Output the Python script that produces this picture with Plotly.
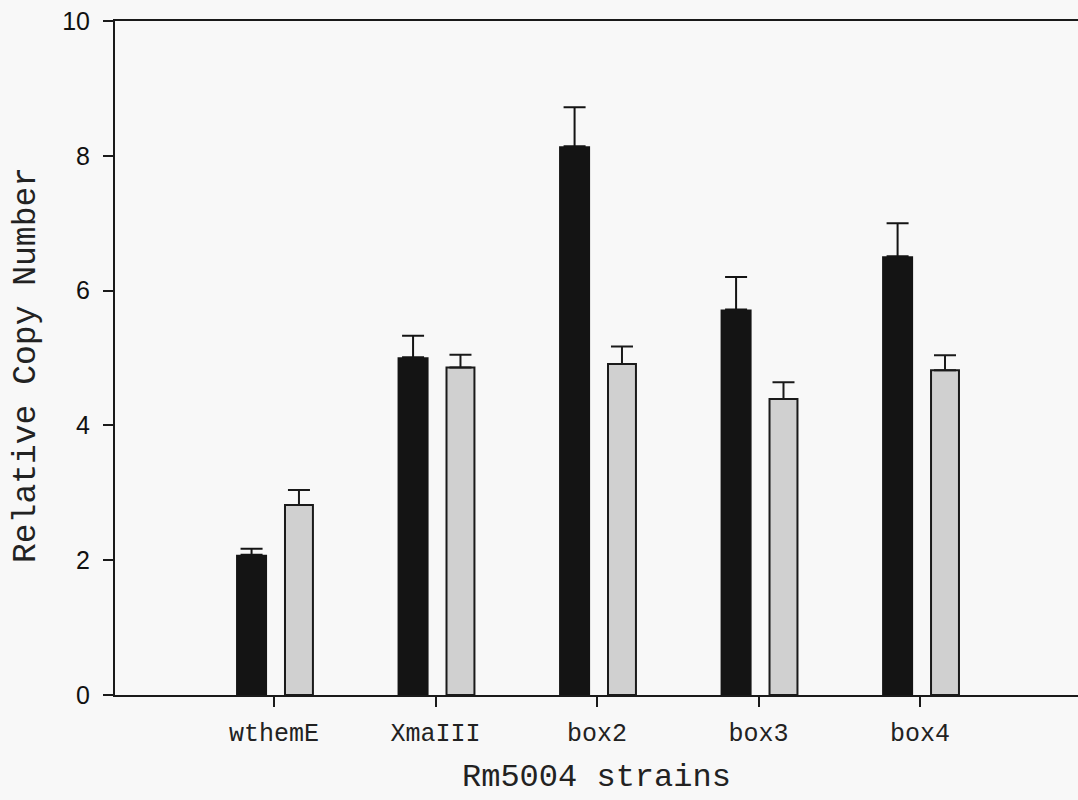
import plotly.graph_objects as go

categories = ["wthemE", "XmaIII", "box2", "box3", "box4"]
black_values = [2.08, 5.01, 8.14, 5.72, 6.51]
black_errors = [0.09, 0.32, 0.58, 0.48, 0.49]
grey_values = [2.82, 4.86, 4.91, 4.39, 4.82]
grey_errors = [0.22, 0.19, 0.26, 0.25, 0.22]
y_ticks = [0, 2, 4, 6, 8, 10]

x_pos = list(range(len(categories)))

fig = go.Figure()
fig.add_trace(go.Bar(
    x=x_pos, y=black_values,
    offset=-0.235, width=0.192,
    marker=dict(color="#141414", line=dict(width=0)),
    error_y=dict(type="data", array=black_errors, arrayminus=[0] * len(black_errors),
                 symmetric=False, thickness=2, width=11, color="#141414"),
    showlegend=False,
))
fig.add_trace(go.Bar(
    x=x_pos, y=grey_values,
    offset=0.068, width=0.173,
    marker=dict(color="#d0d0d0", line=dict(width=2, color="#1a1a1a")),
    error_y=dict(type="data", array=grey_errors, arrayminus=[0] * len(grey_errors),
                 symmetric=False, thickness=2, width=11, color="#1a1a1a"),
    showlegend=False,
))

fig.update_layout(
    width=1078, height=800,
    margin=dict(l=115, r=0, t=21, b=105),
    barmode="overlay",
    paper_bgcolor="#f8f8f8",
    plot_bgcolor="#f8f8f8",
    xaxis=dict(
        range=[-0.9845, 4.978],
        tickmode="array", tickvals=x_pos, ticktext=categories,
        ticks="outside", ticklen=10, tickwidth=2, tickcolor="#1a1a1a",
        showline=True, linewidth=2, linecolor="#1a1a1a", mirror=True,
        showgrid=False, zeroline=False, ticklabelstandoff=4,
        tickfont=dict(family="Liberation Mono, Courier New, monospace", size=25, color="#222"),
    ),
    yaxis=dict(
        range=[0, 10],
        tickmode="array", tickvals=y_ticks, ticktext=[str(v) for v in y_ticks],
        ticks="outside", ticklen=10, tickwidth=2, tickcolor="#1a1a1a",
        showline=True, linewidth=2, linecolor="#1a1a1a",
        showgrid=False, zeroline=False, ticklabelstandoff=8,
        tickfont=dict(family="Liberation Sans, Arial, sans-serif", size=25, color="#111"),
    ),
    annotations=[
        dict(text="Rm5004 strains", xref="paper", yref="paper",
             x=(596 - 115) / 963, y=-(798 - 695) / 674, showarrow=False,
             xanchor="center", yanchor="bottom",
             font=dict(family="Liberation Mono, Courier New, monospace", size=32, color="#222")),
        dict(text="Relative Copy Number", xref="paper", yref="paper",
             x=-(115 - 26) / 963, y=(695 - 365) / 674, showarrow=False, textangle=-90,
             xanchor="center", yanchor="middle",
             font=dict(family="Liberation Mono, Courier New, monospace", size=33, color="#222")),
    ],
)

fig.write_html("out.html")
